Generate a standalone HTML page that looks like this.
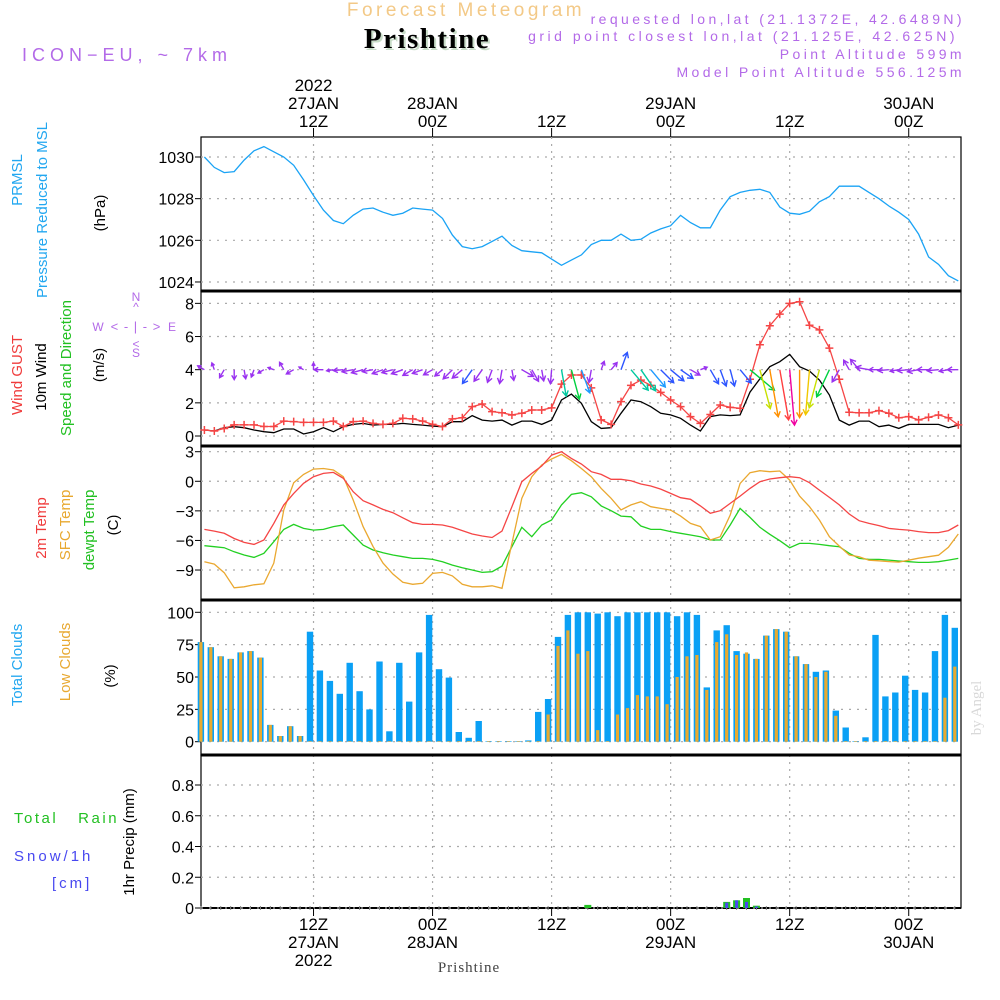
<!DOCTYPE html>
<html><head><meta charset="utf-8"><style>
html,body{margin:0;padding:0;background:#fff;}
svg{display:block;font-family:"Liberation Sans",sans-serif;}
</style></head><body>
<svg id="chart" width="1000" height="1000" viewBox="0 0 1000 1000" xmlns="http://www.w3.org/2000/svg">
<g>
<text x="466" y="16" text-anchor="middle" font-size="19" fill="#f3c987" letter-spacing="3.5">Forecast Meteogram</text>
<text x="429" y="50" text-anchor="middle" font-size="29" font-weight="bold" font-family="Liberation Serif,serif" fill="#c8dcc8" letter-spacing="1.5">Prishtine</text>
<text x="427" y="48" text-anchor="middle" font-size="29" font-weight="bold" font-family="Liberation Serif,serif" fill="#000" letter-spacing="1.5">Prishtine</text>
<text x="22" y="61" font-size="18" fill="#b36ae8" letter-spacing="5">ICON−EU, ~ 7km</text>
<text x="965" y="24" text-anchor="end" font-size="14" fill="#b36ae8" letter-spacing="3.4">requested lon,lat (21.1372E, 42.6489N)</text>
<text x="958" y="41" text-anchor="end" font-size="14" fill="#b36ae8" letter-spacing="3.5">grid point closest lon,lat (21.125E, 42.625N)</text>
<text x="965" y="59" text-anchor="end" font-size="14" fill="#b36ae8" letter-spacing="3.4">Point Altitude 599m</text>
<text x="965" y="77" text-anchor="end" font-size="14" fill="#b36ae8" letter-spacing="3.4">Model Point Altitude 556.125m</text>
</g>
<g id="frame"></g>
<g id="plots"></g>
<g font-size="15">
<text transform="translate(22,180) rotate(-90)" text-anchor="middle" fill="#22a7f0">PRMSL</text>
<text transform="translate(47,210) rotate(-90)" text-anchor="middle" fill="#22a7f0">Pressure Reduced to MSL</text>
<text transform="translate(105,213) rotate(-90)" text-anchor="middle" fill="#000">(hPa)</text>
<text transform="translate(22,375) rotate(-90)" text-anchor="middle" fill="#f03c3c">Wind GUST</text>
<text transform="translate(46,377) rotate(-90)" text-anchor="middle" fill="#000">10m Wind</text>
<text transform="translate(71,368) rotate(-90)" text-anchor="middle" fill="#22c022">Speed and Direction</text>
<text transform="translate(104,365) rotate(-90)" text-anchor="middle" fill="#000">(m/s)</text>
<g fill="#b36ae8" font-size="12"><text x="136" y="301" text-anchor="middle">N</text><text x="136" y="311" text-anchor="middle">^</text><text x="98" y="331" text-anchor="middle">W</text><text x="136" y="331" text-anchor="middle" font-size="13" letter-spacing="1">&lt; - | - &gt;</text><text x="172" y="331" text-anchor="middle">E</text><text x="136" y="348" text-anchor="middle">&lt;</text><text x="136" y="357" text-anchor="middle">S</text></g>
<text transform="translate(46,528) rotate(-90)" text-anchor="middle" fill="#f03c3c">2m Temp</text>
<text transform="translate(70,525) rotate(-90)" text-anchor="middle" fill="#e8a830">SFC Temp</text>
<text transform="translate(94,530) rotate(-90)" text-anchor="middle" fill="#22c022">dewpt Temp</text>
<text transform="translate(118,525) rotate(-90)" text-anchor="middle" fill="#000">(C)</text>
<text transform="translate(22,665) rotate(-90)" text-anchor="middle" fill="#22a7f0">Total Clouds</text>
<text transform="translate(70,662) rotate(-90)" text-anchor="middle" fill="#e8a830">Low Clouds</text>
<text transform="translate(115,676) rotate(-90)" text-anchor="middle" fill="#000">(%)</text>
<text x="14" y="823" fill="#22c022" letter-spacing="2.5" xml:space="preserve">Total   Rain</text>
<text x="14" y="861" fill="#4848f0" letter-spacing="3">Snow/1h</text>
<text x="52" y="888" fill="#4848f0" letter-spacing="3">[cm]</text>
<text transform="translate(134,842) rotate(-90)" text-anchor="middle" fill="#000">1hr Precip (mm)</text>
<text transform="translate(981,708) rotate(-90)" text-anchor="middle" fill="#d8d8d8" font-family="Liberation Serif,serif" font-size="15">by Angel</text>
</g>
</svg>
<script>
var hours=[];for(var i=1;i<=77;i++)hours.push(i);
var pressure=[1030.0,1029.5,1029.25,1029.3,1029.85,1030.3,1030.5,1030.25,1030.0,1029.6,1028.9,1028.15,1027.45,1026.95,1026.8,1027.2,1027.5,1027.55,1027.35,1027.2,1027.3,1027.55,1027.5,1027.45,1027.05,1026.25,1025.7,1025.6,1025.7,1025.95,1026.2,1025.75,1025.5,1025.45,1025.4,1025.1,1024.8,1025.05,1025.3,1025.8,1026.0,1026.0,1026.3,1026.0,1026.05,1026.35,1026.55,1026.7,1027.2,1026.85,1026.6,1026.6,1027.45,1028.1,1028.3,1028.4,1028.45,1028.3,1027.6,1027.3,1027.25,1027.4,1027.85,1028.1,1028.6,1028.6,1028.6,1028.3,1028.0,1027.65,1027.35,1027.0,1026.3,1025.2,1024.85,1024.3,1024.05];
var gust=[0.36,0.3,0.45,0.67,0.67,0.67,0.57,0.57,0.9,0.87,0.82,0.82,0.82,0.9,0.57,0.87,0.9,0.76,0.7,0.76,1.07,1.03,0.9,0.7,0.57,1.03,1.1,1.77,1.93,1.47,1.4,1.27,1.37,1.57,1.57,1.7,3.13,3.68,3.68,2.9,0.97,0.7,2.07,3.05,3.37,3.05,2.63,2.17,1.77,1.17,0.76,1.3,1.87,1.73,1.67,3.42,5.5,6.65,7.35,8.0,8.1,6.68,6.4,5.3,3.42,1.43,1.4,1.4,1.53,1.37,1.1,1.17,0.97,1.13,1.27,1.1,0.67];
var wind=[0.36,0.3,0.5,0.56,0.5,0.36,0.26,0.2,0.42,0.42,0.12,0.26,0.5,0.26,0.56,0.7,0.76,0.66,0.7,0.7,0.76,0.7,0.66,0.6,0.56,0.86,0.86,1.23,0.96,0.9,0.96,0.66,0.9,0.9,0.7,0.96,2.17,2.53,1.97,0.86,0.46,0.5,1.37,2.17,2.07,1.77,1.37,1.27,1.07,0.66,0.3,1.17,1.27,1.23,1.27,2.65,3.45,4.18,4.48,4.92,4.18,3.92,3.38,2.47,0.96,0.66,0.9,0.9,0.56,0.66,0.46,0.7,0.7,0.7,0.7,0.5,0.66];
var windDir=[120,160,30,0,350,20,60,110,150,60,120,180,90,80,85,80,75,80,70,75,70,60,70,60,50,45,50,35,35,20,10,350,300,330,350,5,350,345,340,10,200,220,200,320,325,320,315,310,305,300,250,330,340,345,320,310,345,350,350,355,0,5,15,25,30,150,140,100,90,85,80,85,80,90,85,80,90];
var temp2m=[-4.88,-5.05,-5.28,-5.8,-6.2,-6.4,-5.96,-4.27,-2.4,-1.23,-0.2,0.46,0.8,0.9,0.3,-1.06,-1.97,-2.4,-2.85,-3.19,-3.7,-4.2,-4.37,-4.37,-4.43,-4.67,-5.0,-5.35,-5.55,-5.7,-5.05,-2.58,-0.04,0.8,1.55,2.66,3.0,2.32,1.75,0.97,0.7,0.2,0.2,0.06,-0.28,-0.48,-0.79,-1.23,-1.67,-1.83,-2.5,-3.25,-2.98,-2.24,-1.5,-0.72,-0.04,0.23,0.36,0.46,0.36,-0.14,-0.89,-1.63,-2.4,-3.32,-4.0,-4.27,-4.5,-4.78,-4.88,-4.95,-5.1,-5.2,-5.2,-5.0,-4.43];
var sfcTemp=[-8.16,-8.4,-9.27,-10.8,-10.7,-10.5,-10.4,-8.3,-2.9,-0.15,0.7,1.24,1.3,1.14,0.46,-1.9,-4.6,-6.6,-8.3,-9.4,-10.25,-10.45,-10.35,-9.34,-9.24,-9.6,-10.45,-10.7,-10.7,-10.6,-10.85,-6.3,-1.73,0.46,1.65,2.26,2.73,2.09,1.3,0.46,-0.72,-1.73,-2.9,-2.4,-2.07,-2.58,-2.75,-2.92,-3.53,-4.27,-4.6,-5.96,-5.62,-3.42,-0.21,0.87,1.07,0.97,1.04,0.12,-1.5,-2.58,-3.93,-5.62,-6.57,-7.48,-7.65,-8.0,-8.06,-8.15,-8.2,-8.0,-7.8,-7.65,-7.5,-6.7,-5.35];
var dewpt=[-6.53,-6.63,-6.74,-7.15,-7.48,-7.72,-7.3,-6.13,-4.88,-4.37,-4.78,-4.95,-4.88,-4.6,-4.43,-5.45,-6.47,-6.97,-7.24,-7.48,-7.65,-7.82,-7.82,-7.92,-8.16,-8.5,-8.77,-9.0,-9.24,-9.17,-8.6,-6.63,-4.67,-5.62,-4.43,-3.93,-2.4,-1.33,-1.16,-1.57,-2.5,-2.98,-3.53,-3.6,-4.54,-4.88,-4.88,-5.1,-5.28,-5.45,-5.62,-5.96,-5.96,-4.43,-2.75,-3.66,-4.67,-5.38,-6.03,-6.74,-6.3,-6.3,-6.4,-6.53,-6.63,-7.3,-7.82,-7.92,-7.92,-7.99,-8.09,-8.16,-8.23,-8.23,-8.16,-7.99,-7.82];
var totalClouds=[77,73,66,64,69,70,65,13,4.4,12,4.4,85,55,47,37,61,39,25,62,8,61,31,69,98,56,49.5,7.5,3,16,0.5,0.5,0.5,0.5,1,23,33,81,98,100,100,99,100,97,100,100,100,100,100,97,100,98,42,86,90,70,68,64,82,87,85,66,60,54,55,24,11,0.5,3.4,82.5,35,38,51,40,38,70,98,88];
var lowClouds=[77,73,66,64,69,70,65,13,4.4,12,4.4,0.5,0.5,0.5,0.5,0.5,0.5,0.5,0.5,0.5,0.5,0.5,0.5,0.5,0.5,0.5,0.5,0.5,0.5,0.5,0.5,0.5,0.5,0.5,0.5,21,74,86,68,70,9,0.5,21,26,36,35,35,29,50,66,67,40,77,83,67,69,64,82,87,85,66,60,50,54,20,0.5,0.5,0.5,0.5,0.5,0.5,0.5,0.5,0.5,0.5,34,58];
var precipHours=[40,54,55,56,57];
var rain=[0.02,0.04,0.05,0.065,0.015];
var snow=[0,0.035,0.05,0.04,0.01];
var pTicks=[1024,1026,1028,1030];
var wTicks=[0,2,4,6,8];
var tTicks=[3,0,-3,-6,-9];
var cTicks=[0,25,50,75,100];
var rTicks=["0","0.2","0.4","0.6","0.8"];
var timeTicks=[12,24,36,48,60,72];
var topLabels=[["2022","27JAN","12Z"],["","28JAN","00Z"],["","","12Z"],["","29JAN","00Z"],["","","12Z"],["","30JAN","00Z"]];
var botLabels=[["12Z","27JAN","2022"],["00Z","28JAN",""],["12Z","",""],["00Z","29JAN",""],["12Z","",""],["00Z","30JAN",""]];

var NS="http://www.w3.org/2000/svg";
var L=201,R=961;
function X(h){return 204.4+(h-1)*9.92;}
function yP(v){return 157+(1030-v)*20.83;}
function yW(v){return 436-v*16.58;}
function yT(v){return 451.7+(3-v)*9.86;}
function yC(v){return 741.7-v*1.294;}
function yR(v){return 908-v*153.75;}
var frame=document.getElementById('frame'),plots=document.getElementById('plots');
function mk(tag,at,parent){var e=document.createElementNS(NS,tag);for(var k in at)e.setAttribute(k,at[k]);(parent||plots).appendChild(e);return e;}
var panels=[[137,291],[291,446],[446,600],[600,755],[755,908]];
panels.forEach(function(p,i){
  var r=mk('rect',{x:L,y:p[0],width:R-L,height:p[1]-p[0],fill:'none',stroke:'#000','stroke-width':1.2},frame);
  
  
  timeTicks.forEach(function(h){
    var g=mk('line',{x1:X(h),x2:X(h),y1:p[0],y2:p[1],stroke:'#aaa','stroke-dasharray':'2,5','stroke-width':1.2},frame);
    
    
  });
});
[291,446,600,755].forEach(function(y){var l=mk('line',{x1:L,x2:R,y1:y,y2:y,stroke:'#000','stroke-width':3},frame);});
mk('line',{x1:L,x2:R,y1:908,y2:908,stroke:'#000','stroke-width':2},frame);
function yaxis(ticks,fn,labels,name){
  ticks.forEach(function(v,i){
    var y=fn(typeof v=='string'?parseFloat(v):v);
    var g=mk('line',{x1:L,x2:R,y1:y,y2:y,stroke:'#aaa','stroke-dasharray':'2,6','stroke-width':1.2},frame);
    
    
    mk('line',{x1:L-6,x2:L,y1:y,y2:y,stroke:'#000'},frame);
    var t=mk('text',{x:L-7,y:y+6,'text-anchor':'end','font-size':16,fill:'#000'},frame);
    t.textContent=(labels?labels[i]:String(v)).replace('-','\u2212');
    
    
  });
}
yaxis(pTicks,yP,null,'pressure');yaxis(wTicks,yW,null,'wind');yaxis(tTicks,yT,null,'temp');yaxis(cTicks,yC,null,'cloud');yaxis(rTicks,yR,rTicks,'precip');
timeTicks.forEach(function(h,i){
  mk('line',{x1:X(h),x2:X(h),y1:128,y2:137,stroke:'#000'},frame);
  mk('line',{x1:X(h),x2:X(h),y1:908,y2:916,stroke:'#000'},frame);
  topLabels[i].forEach(function(s,j){if(!s)return;var t=mk('text',{x:X(h),y:91+j*18,'text-anchor':'middle','font-size':17,fill:'#000'},frame);t.textContent=s;});
  botLabels[i].forEach(function(s,j){if(!s)return;var t=mk('text',{x:X(h),y:930+j*18,'text-anchor':'middle','font-size':17,fill:'#000'},frame);t.textContent=s;});
});
for(var h=1;h<=77;h++){mk('line',{x1:X(h)-3.5,x2:X(h)-3.5,y1:906,y2:910,stroke:'#888'},frame);}
var pn=mk('text',{x:469,y:972,'text-anchor':'middle','font-size':15,'font-family':'Liberation Serif,serif',fill:'#444','letter-spacing':1},frame);pn.textContent='Prishtine';


function line(arr,fn,col,name,w){
  var d=arr.map(function(v,i){return (i?'L':'M')+X(hours[i]).toFixed(1)+','+fn(v).toFixed(1);}).join('');
  var p=mk('path',{d:d,fill:'none',stroke:col,'stroke-width':w||1.3});
  
  
}
line(pressure,yP,'#1aa3f5','pressure-line');
line(wind,yW,'#000','wind-speed-line');
line(gust,yW,'#f54545','gust-line');
gust.forEach(function(v,i){var x=X(hours[i]),y=yW(v);var g=mk('path',{d:'M'+(x-4)+','+y+'h8M'+x+','+(y-4)+'v8',stroke:'#f54545','stroke-width':1.5});});
function wcol(s){if(s<1)return'#9a32f0';if(s<1.5)return'#2d55ff';if(s<2)return'#1e9bff';if(s<2.4)return'#00c8a0';if(s<3)return'#00d040';if(s<3.6)return'#c8e000';if(s<4)return'#f0c800';if(s<4.3)return'#ff9000';if(s<4.7)return'#ff4040';return'#f000a0';}
wind.forEach(function(s,i){
  var x0=X(hours[i]),y0=yW(4),len=4+s*10.5,a=(windDir[i]+180)*Math.PI/180;
  var dx=Math.sin(a)*len,dy=-Math.cos(a)*len,x1=x0+dx,y1=y0+dy;
  var ux=dx/len,uy=dy/len,hl=Math.min(6,len*0.5);
  var d='M'+x0.toFixed(1)+','+y0.toFixed(1)+'L'+x1.toFixed(1)+','+y1.toFixed(1)+
    'M'+(x1-hl*(ux*0.87-uy*0.5)).toFixed(1)+','+(y1-hl*(uy*0.87+ux*0.5)).toFixed(1)+'L'+x1.toFixed(1)+','+y1.toFixed(1)+
    'L'+(x1-hl*(ux*0.87+uy*0.5)).toFixed(1)+','+(y1-hl*(uy*0.87-ux*0.5)).toFixed(1);
  var p=mk('path',{d:d,fill:'none',stroke:wcol(s),'stroke-width':1.4});
  
  
});
line(dewpt,yT,'#22d022','dewpoint-line');
line(sfcTemp,yT,'#eaa830','sfc-temp-line');
line(temp2m,yT,'#f54545','temp-2m-line');
totalClouds.forEach(function(v,i){
  var x=X(hours[i])-3.5,y=yC(v);
  var b=mk('rect',{x:(x-3.2).toFixed(1),y:y.toFixed(1),width:6.4,height:(yC(0)-y).toFixed(1),fill:'#0aa0f5'});
  
  
  var lv=lowClouds[i],ly=yC(lv);
  var c=mk('rect',{x:(x-1.6).toFixed(1),y:ly.toFixed(1),width:3.2,height:(yC(0)-ly).toFixed(1),fill:'#e8aa30'});
  
  
});
precipHours.forEach(function(h,i){
  var x=X(h)-3.5,y=yR(rain[i]);
  var b=mk('rect',{x:(x-3.5).toFixed(1),y:y.toFixed(1),width:7,height:(908-y).toFixed(1),fill:'#22c022'});
  
  
  var sy=yR(snow[i]);
  var s=mk('rect',{x:(x-1.5).toFixed(1),y:sy.toFixed(1),width:3,height:(908-sy).toFixed(1),fill:'#4848f0'});
  
  
});
</script>
</body></html>
